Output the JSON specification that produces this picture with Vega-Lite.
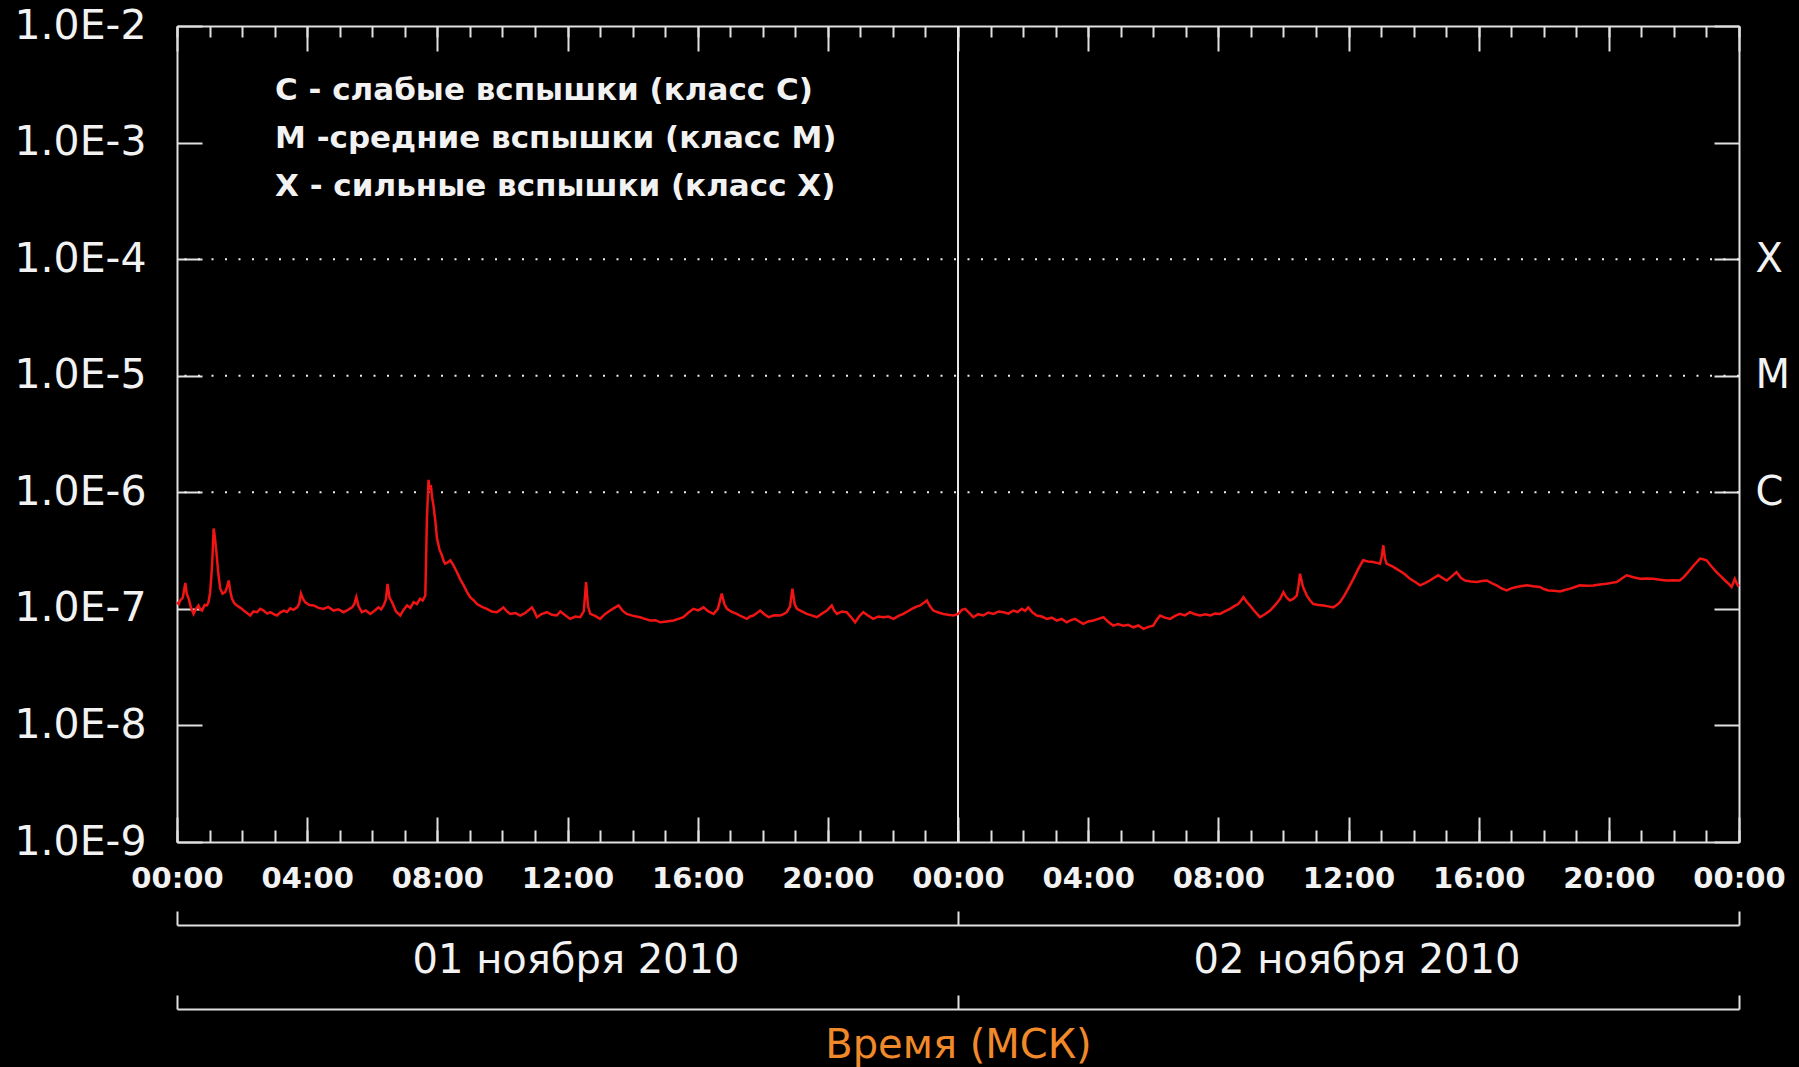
{
"$schema": "https://vega.github.io/schema/vega-lite/v6.json",
"background": "#000000",
"width": 1562,
"height": 816,
"autosize": {"type": "none"},
"padding": {"left": 177, "top": 26, "right": 60, "bottom": 225},
"config": {
  "view": {"stroke": null},
  "axis": {"grid": false, "labelOverlap": false, "labelFlush": false, "labelBound": false, "labelLimit": 600, "domainColor": "#e0e0e0", "tickColor": "#e0e0e0", "domainWidth": 2, "tickWidth": 2, "labelColor": "#f2f2f2", "labelFont": "DejaVu Sans"}
},
"title": {"text": ["C - слабые вспышки (класс C)", "M -средние вспышки (класс M)", "X - сильные вспышки (класс X)"], "anchor": "start", "frame": "group", "orient": "top", "offset": 0, "dx": 98, "dy": 198, "baseline": "top", "lineHeight": 48, "font": "DejaVu Sans", "fontSize": 31, "fontWeight": "bold", "color": "#f2f2f2", "limit": 1000},
"datasets": {
  "grid": [{"f": 1e-4}, {"f": 1e-5}, {"f": 1e-6}],
  "midnight": [{"h": 24}],
  "bounds": [{"h": 0, "f": 1e-9}, {"h": 48, "f": 1e-2}],
  "flux": [
{"h":0.00,"f":1.14e-7},{"h":0.05,"f":1.10e-7},{"h":0.10,"f":1.18e-7},{"h":0.18,"f":1.25e-7},{"h":0.255,"f":1.67e-7},{"h":0.30,"f":1.35e-7},{"h":0.36,"f":1.22e-7},{"h":0.43,"f":1.02e-7},{"h":0.51,"f":0.905e-7},{"h":0.58,"f":1.00e-7},{"h":0.66,"f":1.07e-7},{"h":0.72,"f":0.98e-7},{"h":0.77,"f":0.967e-7},{"h":0.85,"f":1.08e-7},{"h":0.92,"f":1.07e-7},{"h":0.97,"f":1.15e-7},{"h":1.02,"f":1.39e-7},{"h":1.08,"f":2.4e-7},{"h":1.125,"f":4.89e-7},{"h":1.16,"f":4.2e-7},{"h":1.21,"f":3.08e-7},{"h":1.27,"f":2.0e-7},{"h":1.33,"f":1.49e-7},{"h":1.40,"f":1.35e-7},{"h":1.48,"f":1.39e-7},{"h":1.54,"f":1.55e-7},{"h":1.59,"f":1.75e-7},{"h":1.64,"f":1.40e-7},{"h":1.69,"f":1.22e-7},{"h":1.76,"f":1.12e-7},{"h":1.84,"f":1.07e-7},{"h":1.95,"f":1.02e-7},{"h":2.05,"f":0.967e-7},{"h":2.15,"f":0.92e-7},{"h":2.25,"f":0.877e-7},{"h":2.35,"f":0.95e-7},{"h":2.46,"f":0.936e-7},{"h":2.56,"f":1.00e-7},{"h":2.66,"f":0.967e-7},{"h":2.77,"f":0.91e-7},{"h":2.87,"f":0.936e-7},{"h":2.97,"f":0.90e-7},{"h":3.07,"f":0.877e-7},{"h":3.17,"f":0.93e-7},{"h":3.28,"f":0.967e-7},{"h":3.38,"f":0.94e-7},{"h":3.48,"f":1.01e-7},{"h":3.58,"f":0.98e-7},{"h":3.69,"f":1.03e-7},{"h":3.75,"f":1.10e-7},{"h":3.81,"f":1.35e-7},{"h":3.87,"f":1.22e-7},{"h":3.94,"f":1.14e-7},{"h":4.07,"f":1.08e-7},{"h":4.20,"f":1.07e-7},{"h":4.35,"f":1.02e-7},{"h":4.50,"f":1.00e-7},{"h":4.65,"f":1.04e-7},{"h":4.81,"f":0.967e-7},{"h":4.96,"f":0.99e-7},{"h":5.12,"f":0.936e-7},{"h":5.25,"f":0.98e-7},{"h":5.38,"f":1.03e-7},{"h":5.45,"f":1.10e-7},{"h":5.51,"f":1.26e-7},{"h":5.58,"f":1.05e-7},{"h":5.68,"f":0.936e-7},{"h":5.80,"f":0.97e-7},{"h":5.94,"f":0.905e-7},{"h":6.06,"f":0.96e-7},{"h":6.19,"f":1.03e-7},{"h":6.27,"f":0.99e-7},{"h":6.35,"f":1.07e-7},{"h":6.42,"f":1.20e-7},{"h":6.47,"f":1.64e-7},{"h":6.53,"f":1.25e-7},{"h":6.61,"f":1.14e-7},{"h":6.73,"f":0.95e-7},{"h":6.86,"f":0.877e-7},{"h":6.96,"f":0.98e-7},{"h":7.07,"f":1.07e-7},{"h":7.17,"f":1.02e-7},{"h":7.27,"f":1.14e-7},{"h":7.37,"f":1.10e-7},{"h":7.47,"f":1.22e-7},{"h":7.55,"f":1.18e-7},{"h":7.63,"f":1.30e-7},{"h":7.68,"f":5.96e-7},{"h":7.73,"f":12.8e-7},{"h":7.76,"f":10.5e-7},{"h":7.80,"f":11.5e-7},{"h":7.84,"f":9.0e-7},{"h":7.88,"f":7.76e-7},{"h":7.94,"f":5.6e-7},{"h":7.99,"f":4.01e-7},{"h":8.07,"f":3.2e-7},{"h":8.14,"f":2.88e-7},{"h":8.20,"f":2.55e-7},{"h":8.24,"f":2.44e-7},{"h":8.32,"f":2.50e-7},{"h":8.40,"f":2.61e-7},{"h":8.50,"f":2.35e-7},{"h":8.60,"f":2.07e-7},{"h":8.70,"f":1.80e-7},{"h":8.81,"f":1.59e-7},{"h":8.91,"f":1.40e-7},{"h":9.01,"f":1.26e-7},{"h":9.12,"f":1.18e-7},{"h":9.22,"f":1.10e-7},{"h":9.37,"f":1.04e-7},{"h":9.52,"f":1.00e-7},{"h":9.67,"f":0.95e-7},{"h":9.83,"f":0.936e-7},{"h":9.93,"f":0.98e-7},{"h":10.03,"f":1.03e-7},{"h":10.14,"f":0.95e-7},{"h":10.24,"f":0.905e-7},{"h":10.40,"f":0.92e-7},{"h":10.55,"f":0.877e-7},{"h":10.72,"f":0.93e-7},{"h":10.91,"f":1.03e-7},{"h":10.98,"f":0.95e-7},{"h":11.06,"f":0.848e-7},{"h":11.20,"f":0.90e-7},{"h":11.37,"f":0.936e-7},{"h":11.52,"f":0.89e-7},{"h":11.67,"f":0.877e-7},{"h":11.78,"f":0.95e-7},{"h":11.93,"f":0.88e-7},{"h":12.08,"f":0.82e-7},{"h":12.24,"f":0.86e-7},{"h":12.39,"f":0.848e-7},{"h":12.50,"f":0.95e-7},{"h":12.57,"f":1.70e-7},{"h":12.63,"f":1.05e-7},{"h":12.70,"f":0.905e-7},{"h":12.85,"f":0.87e-7},{"h":13.00,"f":0.82e-7},{"h":13.15,"f":0.90e-7},{"h":13.31,"f":0.967e-7},{"h":13.44,"f":1.02e-7},{"h":13.57,"f":1.07e-7},{"h":13.70,"f":0.96e-7},{"h":13.82,"f":0.905e-7},{"h":14.02,"f":0.87e-7},{"h":14.23,"f":0.848e-7},{"h":14.38,"f":0.82e-7},{"h":14.54,"f":0.794e-7},{"h":14.70,"f":0.80e-7},{"h":14.85,"f":0.767e-7},{"h":15.05,"f":0.78e-7},{"h":15.26,"f":0.794e-7},{"h":15.41,"f":0.82e-7},{"h":15.56,"f":0.848e-7},{"h":15.72,"f":0.93e-7},{"h":15.87,"f":1.00e-7},{"h":16.02,"f":0.97e-7},{"h":16.18,"f":1.03e-7},{"h":16.33,"f":0.95e-7},{"h":16.49,"f":0.905e-7},{"h":16.62,"f":1.00e-7},{"h":16.74,"f":1.35e-7},{"h":16.82,"f":1.10e-7},{"h":16.90,"f":1.00e-7},{"h":17.05,"f":0.94e-7},{"h":17.20,"f":0.905e-7},{"h":17.35,"f":0.86e-7},{"h":17.51,"f":0.82e-7},{"h":17.61,"f":0.86e-7},{"h":17.71,"f":0.877e-7},{"h":17.82,"f":0.92e-7},{"h":17.92,"f":0.967e-7},{"h":18.05,"f":0.90e-7},{"h":18.18,"f":0.848e-7},{"h":18.35,"f":0.88e-7},{"h":18.53,"f":0.877e-7},{"h":18.64,"f":0.90e-7},{"h":18.74,"f":0.936e-7},{"h":18.84,"f":1.05e-7},{"h":18.91,"f":1.49e-7},{"h":18.98,"f":1.10e-7},{"h":19.05,"f":1.00e-7},{"h":19.20,"f":0.95e-7},{"h":19.35,"f":0.905e-7},{"h":19.50,"f":0.88e-7},{"h":19.66,"f":0.848e-7},{"h":19.82,"f":0.91e-7},{"h":19.97,"f":0.967e-7},{"h":20.05,"f":1.02e-7},{"h":20.12,"f":1.07e-7},{"h":20.20,"f":0.96e-7},{"h":20.28,"f":0.905e-7},{"h":20.43,"f":0.95e-7},{"h":20.58,"f":0.936e-7},{"h":20.71,"f":0.85e-7},{"h":20.84,"f":0.767e-7},{"h":20.96,"f":0.86e-7},{"h":21.09,"f":0.936e-7},{"h":21.25,"f":0.87e-7},{"h":21.40,"f":0.82e-7},{"h":21.55,"f":0.86e-7},{"h":21.71,"f":0.848e-7},{"h":21.86,"f":0.86e-7},{"h":22.02,"f":0.82e-7},{"h":22.17,"f":0.87e-7},{"h":22.32,"f":0.905e-7},{"h":22.45,"f":0.95e-7},{"h":22.58,"f":1.00e-7},{"h":22.71,"f":1.04e-7},{"h":22.84,"f":1.07e-7},{"h":22.94,"f":1.12e-7},{"h":23.04,"f":1.18e-7},{"h":23.14,"f":1.05e-7},{"h":23.24,"f":0.967e-7},{"h":23.40,"f":0.93e-7},{"h":23.55,"f":0.905e-7},{"h":23.70,"f":0.89e-7},{"h":23.86,"f":0.877e-7},{"h":24.01,"f":0.905e-7},
{"h":24.12,"f":0.98e-7},{"h":24.22,"f":1.00e-7},{"h":24.35,"f":0.92e-7},{"h":24.47,"f":0.848e-7},{"h":24.62,"f":0.90e-7},{"h":24.78,"f":0.877e-7},{"h":24.93,"f":0.93e-7},{"h":25.09,"f":0.905e-7},{"h":25.25,"f":0.95e-7},{"h":25.40,"f":0.936e-7},{"h":25.55,"f":0.91e-7},{"h":25.70,"f":0.967e-7},{"h":25.83,"f":0.94e-7},{"h":25.96,"f":1.00e-7},{"h":26.06,"f":0.96e-7},{"h":26.16,"f":1.03e-7},{"h":26.29,"f":0.93e-7},{"h":26.42,"f":0.877e-7},{"h":26.57,"f":0.86e-7},{"h":26.73,"f":0.82e-7},{"h":26.88,"f":0.84e-7},{"h":27.04,"f":0.794e-7},{"h":27.19,"f":0.82e-7},{"h":27.34,"f":0.767e-7},{"h":27.47,"f":0.80e-7},{"h":27.60,"f":0.82e-7},{"h":27.72,"f":0.78e-7},{"h":27.85,"f":0.743e-7},{"h":28.00,"f":0.78e-7},{"h":28.16,"f":0.794e-7},{"h":28.31,"f":0.82e-7},{"h":28.47,"f":0.848e-7},{"h":28.62,"f":0.77e-7},{"h":28.77,"f":0.718e-7},{"h":28.92,"f":0.74e-7},{"h":29.08,"f":0.718e-7},{"h":29.23,"f":0.73e-7},{"h":29.39,"f":0.695e-7},{"h":29.54,"f":0.72e-7},{"h":29.70,"f":0.673e-7},{"h":29.85,"f":0.70e-7},{"h":30.00,"f":0.718e-7},{"h":30.10,"f":0.80e-7},{"h":30.21,"f":0.877e-7},{"h":30.36,"f":0.84e-7},{"h":30.52,"f":0.82e-7},{"h":30.67,"f":0.87e-7},{"h":30.82,"f":0.905e-7},{"h":30.97,"f":0.88e-7},{"h":31.13,"f":0.936e-7},{"h":31.28,"f":0.90e-7},{"h":31.44,"f":0.877e-7},{"h":31.60,"f":0.90e-7},{"h":31.75,"f":0.877e-7},{"h":31.90,"f":0.91e-7},{"h":32.05,"f":0.905e-7},{"h":32.20,"f":0.95e-7},{"h":32.36,"f":1.00e-7},{"h":32.48,"f":1.05e-7},{"h":32.61,"f":1.10e-7},{"h":32.70,"f":1.18e-7},{"h":32.77,"f":1.26e-7},{"h":32.87,"f":1.15e-7},{"h":32.97,"f":1.07e-7},{"h":33.12,"f":0.95e-7},{"h":33.28,"f":0.848e-7},{"h":33.43,"f":0.90e-7},{"h":33.59,"f":0.967e-7},{"h":33.75,"f":1.08e-7},{"h":33.90,"f":1.22e-7},{"h":34.00,"f":1.39e-7},{"h":34.10,"f":1.25e-7},{"h":34.20,"f":1.18e-7},{"h":34.31,"f":1.22e-7},{"h":34.41,"f":1.30e-7},{"h":34.46,"f":1.55e-7},{"h":34.51,"f":2.00e-7},{"h":34.60,"f":1.55e-7},{"h":34.72,"f":1.30e-7},{"h":34.82,"f":1.18e-7},{"h":34.92,"f":1.10e-7},{"h":35.08,"f":1.08e-7},{"h":35.23,"f":1.07e-7},{"h":35.38,"f":1.05e-7},{"h":35.53,"f":1.03e-7},{"h":35.64,"f":1.08e-7},{"h":35.74,"f":1.14e-7},{"h":35.87,"f":1.30e-7},{"h":35.99,"f":1.49e-7},{"h":36.15,"f":1.81e-7},{"h":36.30,"f":2.2e-7},{"h":36.45,"f":2.61e-7},{"h":36.60,"f":2.55e-7},{"h":36.76,"f":2.52e-7},{"h":36.87,"f":2.48e-7},{"h":36.97,"f":2.44e-7},{"h":37.02,"f":2.8e-7},{"h":37.07,"f":3.51e-7},{"h":37.12,"f":2.7e-7},{"h":37.17,"f":2.44e-7},{"h":37.28,"f":2.36e-7},{"h":37.38,"f":2.29e-7},{"h":37.50,"f":2.18e-7},{"h":37.63,"f":2.07e-7},{"h":37.76,"f":1.95e-7},{"h":37.89,"f":1.81e-7},{"h":38.05,"f":1.70e-7},{"h":38.20,"f":1.59e-7},{"h":38.35,"f":1.66e-7},{"h":38.50,"f":1.75e-7},{"h":38.63,"f":1.85e-7},{"h":38.76,"f":1.94e-7},{"h":38.89,"f":1.84e-7},{"h":39.02,"f":1.75e-7},{"h":39.17,"f":1.90e-7},{"h":39.32,"f":2.07e-7},{"h":39.45,"f":1.85e-7},{"h":39.58,"f":1.75e-7},{"h":39.76,"f":1.72e-7},{"h":39.94,"f":1.70e-7},{"h":40.10,"f":1.73e-7},{"h":40.25,"f":1.75e-7},{"h":40.40,"f":1.66e-7},{"h":40.55,"f":1.59e-7},{"h":40.70,"f":1.50e-7},{"h":40.86,"f":1.44e-7},{"h":41.00,"f":1.50e-7},{"h":41.17,"f":1.54e-7},{"h":41.32,"f":1.57e-7},{"h":41.47,"f":1.59e-7},{"h":41.68,"f":1.56e-7},{"h":41.88,"f":1.54e-7},{"h":42.00,"f":1.48e-7},{"h":42.14,"f":1.44e-7},{"h":42.32,"f":1.43e-7},{"h":42.50,"f":1.41e-7},{"h":42.65,"f":1.45e-7},{"h":42.81,"f":1.49e-7},{"h":42.96,"f":1.54e-7},{"h":43.11,"f":1.59e-7},{"h":43.32,"f":1.58e-7},{"h":43.52,"f":1.59e-7},{"h":43.72,"f":1.62e-7},{"h":43.93,"f":1.64e-7},{"h":44.08,"f":1.67e-7},{"h":44.24,"f":1.70e-7},{"h":44.40,"f":1.82e-7},{"h":44.55,"f":1.94e-7},{"h":44.75,"f":1.87e-7},{"h":44.96,"f":1.81e-7},{"h":45.16,"f":1.82e-7},{"h":45.37,"f":1.81e-7},{"h":45.57,"f":1.78e-7},{"h":45.78,"f":1.75e-7},{"h":45.98,"f":1.76e-7},{"h":46.18,"f":1.75e-7},{"h":46.31,"f":1.88e-7},{"h":46.44,"f":2.07e-7},{"h":46.62,"f":2.38e-7},{"h":46.80,"f":2.70e-7},{"h":46.90,"f":2.66e-7},{"h":47.00,"f":2.61e-7},{"h":47.15,"f":2.32e-7},{"h":47.31,"f":2.07e-7},{"h":47.46,"f":1.88e-7},{"h":47.62,"f":1.70e-7},{"h":47.70,"f":1.62e-7},{"h":47.77,"f":1.54e-7},{"h":47.82,"f":1.66e-7},{"h":47.87,"f":1.81e-7},{"h":47.92,"f":1.68e-7},{"h":47.97,"f":1.59e-7},{"h":48.00,"f":1.62e-7}
  ]
},
"layer": [
  {
    "data": {"name": "grid"},
    "mark": {"type": "rule", "stroke": "#f0f0f0", "strokeWidth": 2, "strokeDash": [2, 11.5]},
    "encoding": {
      "y": {"field": "f", "type": "quantitative", "scale": {"type": "log", "domain": [1e-9, 1e-2], "nice": false},
        "axis": {"orient": "right", "title": null, "values": [1e-9, 1e-8, 1e-7, 1e-6, 1e-5, 1e-4, 1e-3, 1e-2], "tickSize": -25, "labels": false, "domain": true}}
    }
  },
  {
    "data": {"name": "midnight"},
    "mark": {"type": "rule", "stroke": "#e8e8e8", "strokeWidth": 2},
    "encoding": {
      "x": {"field": "h", "type": "quantitative", "scale": {"domain": [0, 48], "nice": false, "zero": false},
        "axis": {"orient": "top", "title": null, "values": [0, 4, 8, 12, 16, 20, 24, 28, 32, 36, 40, 44, 48], "tickSize": -25, "labels": false, "domain": true}}
    }
  },
  {
    "data": {"name": "flux"},
    "mark": {"type": "line", "stroke": "#f01414", "strokeWidth": 2.5},
    "encoding": {
      "x": {"field": "h", "type": "quantitative", "scale": {"domain": [0, 48], "nice": false, "zero": false},
        "axis": {"orient": "bottom", "title": null, "values": [0, 4, 8, 12, 16, 20, 24, 28, 32, 36, 40, 44, 48], "ticks": false, "domain": true,
          "labelExpr": "(datum.value % 24 < 10 ? '0' : '') + (datum.value % 24) + ':00'", "labelPadding": 36, "labelBaseline": "middle", "labelFontWeight": "bold", "labelFontSize": 29}},
      "y": {"field": "f", "type": "quantitative", "scale": {"type": "log", "domain": [1e-9, 1e-2], "nice": false},
        "axis": {"orient": "left", "title": null, "values": [1e-9, 1e-8, 1e-7, 1e-6, 1e-5, 1e-4, 1e-3, 1e-2], "ticks": false, "domain": true,
          "labelExpr": "'1.0E' + round(log(datum.value) / LN10)", "labelPadding": 31, "labelBaseline": "middle", "labelFontSize": 41}}
    }
  },
  {
    "data": {"name": "bounds"},
    "mark": {"type": "point", "opacity": 0},
    "encoding": {
      "x": {"field": "h", "type": "quantitative", "scale": {"domain": [0, 48], "nice": false, "zero": false},
        "axis": {"orient": "bottom", "title": null, "values": [0, 4, 8, 12, 16, 20, 24, 28, 32, 36, 40, 44, 48], "tickSize": -25, "labels": false, "domain": false}},
      "y": {"field": "f", "type": "quantitative", "scale": {"type": "log", "domain": [1e-9, 1e-2], "nice": false},
        "axis": {"orient": "left", "title": null, "values": [1e-9, 1e-8, 1e-7, 1e-6, 1e-5, 1e-4, 1e-3, 1e-2], "tickSize": -25, "labels": false, "domain": false}}
    }
  },
  {
    "data": {"name": "bounds"},
    "mark": {"type": "point", "opacity": 0},
    "encoding": {
      "x": {"field": "h", "type": "quantitative", "scale": {"domain": [0, 48], "nice": false, "zero": false},
        "axis": {"orient": "bottom", "title": null, "values": [0,1,2,3,4,5,6,7,8,9,10,11,12,13,14,15,16,17,18,19,20,21,22,23,24,25,26,27,28,29,30,31,32,33,34,35,36,37,38,39,40,41,42,43,44,45,46,47,48], "tickSize": -12, "labels": false, "domain": false}},
      "y": {"field": "f", "type": "quantitative", "scale": {"type": "log", "domain": [1e-9, 1e-2], "nice": false},
        "axis": {"orient": "right", "title": null, "values": [1e-6, 1e-5, 1e-4], "ticks": false, "domain": false,
          "labelExpr": "datum.value > 5e-5 ? 'X' : (datum.value > 5e-6 ? 'M' : 'C')", "labelPadding": 16, "labelAlign": "left", "labelBaseline": "middle", "labelFontSize": 40}}
    }
  },
  {
    "data": {"name": "bounds"},
    "mark": {"type": "point", "opacity": 0},
    "encoding": {
      "x": {"field": "h", "type": "quantitative", "scale": {"domain": [0, 48], "nice": false, "zero": false},
        "axis": {"orient": "top", "title": null, "values": [0,1,2,3,4,5,6,7,8,9,10,11,12,13,14,15,16,17,18,19,20,21,22,23,24,25,26,27,28,29,30,31,32,33,34,35,36,37,38,39,40,41,42,43,44,45,46,47,48], "tickSize": -11, "labels": false, "domain": false}},
      "y": {"field": "f", "type": "quantitative", "scale": {"type": "log", "domain": [1e-9, 1e-2], "nice": false}, "axis": null}
    }
  },
  {
    "data": {"name": "bounds"},
    "mark": {"type": "point", "opacity": 0},
    "encoding": {
      "x": {"field": "h", "type": "quantitative", "scale": {"domain": [0, 48], "nice": false, "zero": false},
        "axis": {"orient": "bottom", "offset": 83, "title": null, "values": [0, 24, 48], "tickSize": -14, "labels": false, "domain": true}},
      "y": {"field": "f", "type": "quantitative", "scale": {"type": "log", "domain": [1e-9, 1e-2], "nice": false}, "axis": null}
    }
  },
  {
    "data": {"name": "bounds"},
    "mark": {"type": "point", "opacity": 0},
    "encoding": {
      "x": {"field": "h", "type": "quantitative", "scale": {"domain": [0, 48], "nice": false, "zero": false},
        "axis": {"orient": "bottom", "title": null, "values": [12, 36], "ticks": false, "domain": false,
          "labelExpr": "datum.value < 24 ? '01 ноября 2010' : '02 ноября 2010'", "labelPadding": 118, "labelBaseline": "middle", "labelFontSize": 40, "labelOffset": 8, "labelLimit": 800}},
      "y": {"field": "f", "type": "quantitative", "scale": {"type": "log", "domain": [1e-9, 1e-2], "nice": false}, "axis": null}
    }
  },
  {
    "data": {"name": "bounds"},
    "mark": {"type": "point", "opacity": 0},
    "encoding": {
      "x": {"field": "h", "type": "quantitative", "scale": {"domain": [0, 48], "nice": false, "zero": false},
        "axis": {"orient": "bottom", "offset": 167, "title": "Время (МСК)", "values": [0, 24, 48], "tickSize": -14, "labels": false, "domain": true,
          "titleColor": "#f0892a", "titleFont": "DejaVu Sans", "titleFontSize": 40, "titleFontWeight": "normal", "titlePadding": 35, "titleBaseline": "middle"}},
      "y": {"field": "f", "type": "quantitative", "scale": {"type": "log", "domain": [1e-9, 1e-2], "nice": false}, "axis": null}
    }
  }
],
"resolve": {"axis": {"x": "independent", "y": "independent"}}
}
